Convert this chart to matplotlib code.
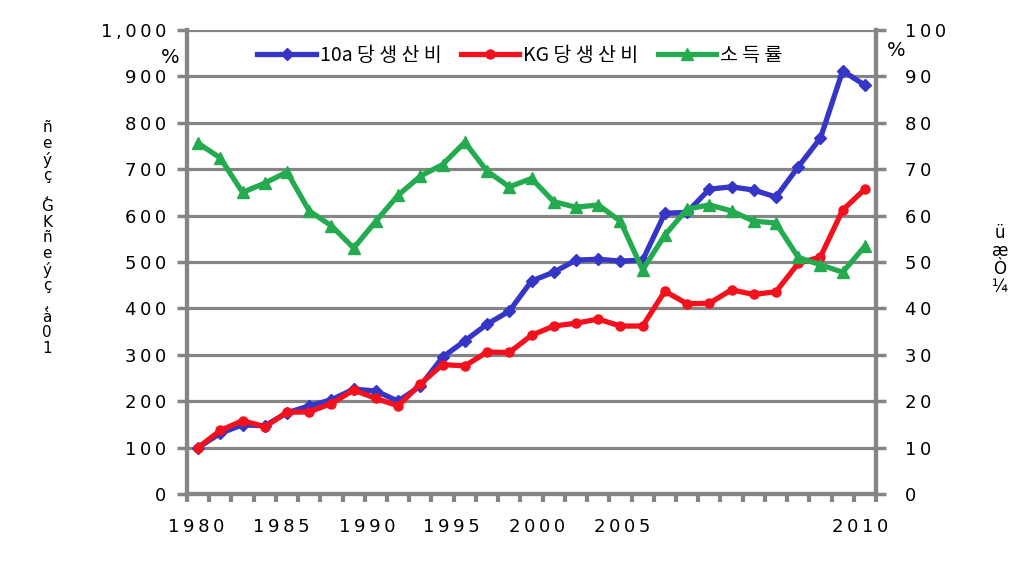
import matplotlib
matplotlib.use('Agg')
import matplotlib.pyplot as plt
from matplotlib.ticker import FixedLocator

# data
years = list(range(1980, 2011))
cost10a = [100, 131, 149, 147, 175, 190, 203, 226, 222, 200,
           233, 295, 330, 366, 394, 459, 478, 504, 506, 502,
           504, 605, 607, 657, 662, 655, 640, 705, 767, 912,
           881]
costKG = [100, 137, 158, 145, 176, 177, 195, 224, 206, 190,
          237, 279, 276, 306, 305, 342, 362, 368, 377, 362,
          362, 437, 410, 411, 440, 430, 436, 497, 511, 612,
          657]
incomeRate = [75.6, 72.4, 65.0, 67.0, 69.4, 61.0, 57.8, 53.0, 58.8, 64.4,
              68.5, 71.0, 75.8, 69.6, 66.2, 68.0, 63.0, 61.8, 62.3, 58.8,
              48.3, 55.8, 61.4, 62.3, 61.0, 58.8, 58.4, 51.0, 49.4, 47.8,
              53.4]
seriesNames = ['10a당생산비', 'KG당생산비', '소득률']
yearLabels = ['1980', '1985', '1990', '1995', '2000', '2005', '2010']
leftTicks = list(range(0, 1001, 100))
rightTicks = list(range(0, 101, 10))

gray = '#858585'
blue = '#3535c8'
red = '#f2111c'
green = '#25ab4f'
thin = '\u2009'

def spaced(s):
    return thin.join(s)

def spacedHangul(s):
    #the reference draws the hangul with wide letter spacing
    out = ''
    for i, ch in enumerate(s):
        if i > 0 and ord(ch) >= 0xAC00:
            out += ' '
        out += ch
    return out

fig = plt.figure(figsize=(10.34, 5.81), dpi=100)
ax = fig.add_axes([187 / 1034, 1 - 494 / 581, 689 / 1034, 464 / 581])
ax2 = ax.twinx()

ax.set_xlim(1979.5, 2010.5)
ax.set_ylim(0, 1000)
ax2.set_ylim(0, 100)

ax.grid(axis='y', color=gray, linewidth=2.3)
ax.set_axisbelow(True)

l1, = ax.plot(years, cost10a, color=blue, linewidth=3.8, marker='D',
              markersize=6, zorder=3)
l2, = ax.plot(years, costKG, color=red, linewidth=3.8, marker='o',
              markersize=6.5, zorder=4)
l3, = ax2.plot(years, incomeRate, color=green, linewidth=3.8, marker='^',
               markersize=9, zorder=3)

for a in (ax, ax2):
    for s in a.spines.values():
        s.set_color(gray)
        s.set_linewidth(3)
    a.spines['top'].set_visible(False)

ax.set_yticks(leftTicks)
ax.set_yticklabels([spaced(f'{v:,}') for v in leftTicks])
ax2.set_yticks(rightTicks)
ax2.set_yticklabels([spaced(str(v)) for v in rightTicks])
ax.tick_params(axis='y', length=7, width=2.5, color=gray, labelsize=13, pad=8)
ax2.tick_params(axis='y', length=7, width=2.5, color=gray, labelsize=13, pad=14)

# year labels sit where the reference drew them, minor ticks between categories
labelPos = [1979.9, 1983.75, 1987.6, 1991.4, 1995.25, 1999.1, 2009.8]
ax.set_xticks(labelPos)
ax.set_xticklabels([spaced(s) for s in yearLabels])
ax.tick_params(axis='x', length=0, labelsize=13, pad=17)
ax.xaxis.set_minor_locator(FixedLocator([y + 0.5 for y in range(1979, 2011)]))
ax.tick_params(axis='x', which='minor', length=6, width=3, color=gray)

ax.text(-0.025, 0.94, '%', transform=ax.transAxes, fontsize=14,
        ha='center', va='center')
ax2.text(1.03, 0.955, '%', transform=ax2.transAxes, fontsize=14,
         ha='center', va='center')

leg = ax.legend([l1, l2, l3], [spacedHangul(n) for n in seriesNames],
                loc='upper center', bbox_to_anchor=(0.483, 1.005), ncol=3,
                frameon=False, handlelength=3.0, handletextpad=0.2,
                columnspacing=1.0,
                prop={'family': ['Noto Sans CJK KR', 'DejaVu Sans'], 'size': 14})

fig.text(47 / 1034, 1 - 238 / 581, '\n'.join('ñeýç¸GKñeýç¸à01'),
         fontsize=11, ha='center', va='center', linespacing=1.05)
fig.text(1000 / 1034, 1 - 260 / 581, '\n'.join('üæÒ¼'),
         fontsize=12, ha='center', va='center', linespacing=1.0)

fig.savefig('out.png', dpi=100)
